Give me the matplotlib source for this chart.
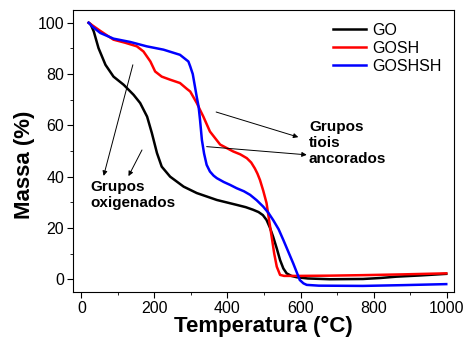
import matplotlib.pyplot as plt
from matplotlib.ticker import MultipleLocator

plt.rcParams["font.family"] = ["Liberation Sans", "DejaVu Sans"]

# TGA curves
go_t = [20, 25, 34, 47, 66, 88, 116, 143, 161, 180, 193, 207, 220, 243, 280, 316, 371, 425,
        450, 470, 485, 497, 507, 516, 525, 535, 544, 553, 562, 575, 589, 620, 680, 771, 820,
        862, 930, 999]
go_m = [100, 99.5, 96.6, 90.1, 83.6, 79, 75.8, 71.9, 68.7, 63.4, 57, 49.2, 43.9, 40, 36.1,
        33.6, 30.9, 29, 28.1, 27.1, 26.2, 25, 23.1, 20.2, 16.6, 12, 7.5, 4.2, 2.3, 1.3, 0.8,
        0.3, 0, 0.1, 0.5, 1.0, 1.5, 2.1]

gosh_t = [20, 34, 52, 88, 120, 152, 170, 189, 202, 220, 243, 270, 289, 298, 316, 325, 334,
          352, 380, 416, 435, 453, 465, 475, 482, 489, 498, 507, 514, 521, 528, 535, 544, 555,
          589, 680, 771, 880, 999]
gosh_m = [100, 98.6, 96.8, 93.4, 92.2, 90.8, 88.8, 84.9, 81, 79, 77.8, 76.5, 74.2, 73.2,
          68.7, 66, 63.4, 57.6, 52.5, 49.8, 48.7, 47.2, 45.5, 43.2, 41.2, 38.7, 34.5, 29.7, 23,
          16.6, 10, 4.9, 1.7, 1.3, 1.3, 1.4, 1.6, 1.9, 2.3]

goshsh_t = [20, 30, 52, 88, 134, 179, 225, 270, 293, 298, 305, 311, 316, 321, 325, 330, 336,
            343, 352, 362, 371, 390, 407, 425, 445, 462, 480, 498, 512, 525, 540, 553, 580,
            598, 608, 617, 650, 771, 880, 999]
goshsh_m = [100, 98.5, 96, 93.8, 92.5, 90.8, 89.5, 87.5, 84.9, 83, 80, 75.1, 71, 67.3, 62,
            54.3, 49, 44.6, 42, 40.4, 39.4, 37.9, 36.8, 35.5, 34.3, 32.9, 30.8, 28.3, 25.9,
            23.1, 19.5, 15.3, 6.2, -0.3, -1.6, -2.2, -2.5, -2.6, -2.3, -1.9]

labels = ["GO", "GOSH", "GOSHSH"]

fig, ax = plt.subplots(figsize=(4.67, 3.42), dpi=100)
ax.plot(go_t, go_m, color="black", lw=1.8, label=labels[0])
ax.plot(gosh_t, gosh_m, color="#ff0000", lw=1.8, label=labels[1])
ax.plot(goshsh_t, goshsh_m, color="#0000ff", lw=1.8, label=labels[2])

arrow = dict(arrowstyle="-|>", color="black", lw=0.7, mutation_scale=7, shrinkA=0, shrinkB=0)
ax.annotate("", xy=(61, 40.3), xytext=(141, 83.6), arrowprops=arrow)
ax.annotate("", xy=(129, 40.2), xytext=(166, 50.4), arrowprops=arrow)
ax.annotate("", xy=(594, 55.4), xytext=(369, 65.2), arrowprops=arrow)
ax.annotate("", xy=(617, 48.5), xytext=(343, 51.7), arrowprops=arrow)

ax.text(25, 38.8, "Grupos\noxigenados", fontsize=11, fontweight="bold",
        va="top", ha="left", linespacing=1.2)
ax.text(623, 62.2, "Grupos\ntiois\nancorados", fontsize=11, fontweight="bold",
        va="top", ha="left", linespacing=1.2)

ax.set_xlim(-22, 1020)
ax.set_ylim(-5, 105)
ax.xaxis.set_major_locator(MultipleLocator(200))
ax.xaxis.set_minor_locator(MultipleLocator(100))
ax.yaxis.set_major_locator(MultipleLocator(20))
ax.yaxis.set_minor_locator(MultipleLocator(10))
ax.tick_params(which="both", direction="out", labelsize=11.5)
ax.tick_params(which="major", length=4, pad=2.5)
ax.tick_params(which="minor", length=2.5)
ax.set_xlabel("Temperatura (°C)", fontsize=16, fontweight="bold", labelpad=0)
ax.set_ylabel("Massa (%)", fontsize=16, fontweight="bold")
ax.yaxis.set_label_coords(-0.10, 0.45)

ax.legend(loc="upper right", frameon=False, fontsize=11.5, handlelength=2.1,
          handletextpad=0.35, labelspacing=0.2, borderaxespad=0.4)

fig.subplots_adjust(left=0.157, right=0.972, top=0.971, bottom=0.146)
fig.savefig("out.png", dpi=100)
